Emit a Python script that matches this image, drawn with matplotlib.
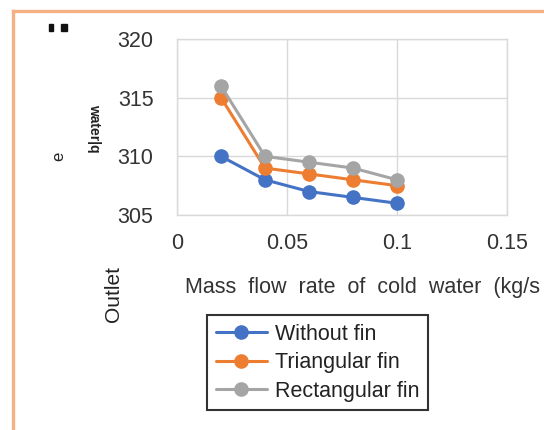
import matplotlib
matplotlib.use("Agg")
import matplotlib.pyplot as plt
from matplotlib.lines import Line2D
from matplotlib.patches import Rectangle

plt.rcParams['font.family'] = ['Liberation Sans', 'DejaVu Sans']

# Data
mass_flow = [0.02, 0.04, 0.06, 0.08, 0.10]
without_fin = [310.0, 308.0, 307.0, 306.5, 306.0]
triangular_fin = [315.0, 309.0, 308.5, 308.0, 307.5]
rectangular_fin = [316.0, 310.0, 309.5, 309.0, 308.0]
series_names = ["Without fin", "Triangular fin", "Rectangular fin"]
colors = ["#4472C4", "#ED7D31", "#A5A5A5"]
x_ticks = [0, 0.05, 0.1, 0.15]
x_tick_labels = ["0", "0.05", "0.1", "0.15"]
y_ticks = [305, 310, 315, 320]

W, H = 544, 430
fig = plt.figure(figsize=(W / 100, H / 100), dpi=100)
fig.patch.set_facecolor("white")

ax = fig.add_axes([177 / W, 1 - 215 / H, (507 - 177) / W, (215 - 39) / H])
for ys, name, c in zip([without_fin, triangular_fin, rectangular_fin], series_names, colors):
    ax.plot(mass_flow, ys, color=c, lw=2.2, marker="o", ms=9.5, label=name,
            solid_capstyle="round", zorder=3)

ax.set_xlim(0, 0.15)
ax.set_ylim(305, 320)
ax.set_xticks(x_ticks)
ax.set_xticklabels(x_tick_labels)
ax.set_yticks(y_ticks)
ax.grid(True, color="#d9d9d9", lw=1.0)
ax.set_axisbelow(True)
for s in ax.spines.values():
    s.set_color("#d9d9d9")
    s.set_linewidth(1.0)
ax.tick_params(length=0, labelsize=15.5, colors="#333333")
ax.tick_params(axis="y", pad=17)
ax.tick_params(axis="x", pad=13)

# Axis label (wide word spacing)
fig.text(185 / W, 1 - 287 / H, "  ".join("Mass flow rate of cold water (kg/s".split()),
         fontsize=15.5, color="#333333", ha="left", va="center")

# Fragments of the vertical axis title
fig.text(113 / W, 1 - 294 / H, "Outlet", rotation=90, fontsize=15,
         color="#222222", ha="center", va="center")
fig.text(59 / W, 1 - 156 / H, "e", rotation=90, fontsize=12,
         color="#222222", ha="center", va="center")
fig.text(94 / W, 1 - 128 / H, "water|q", rotation=270, fontsize=10,
         fontweight="bold", color="#222222", ha="center", va="center")
fig.patches.append(Rectangle((49 / W, 1 - 31 / H), 4 / W, 7 / H,
                             transform=fig.transFigure, color="#111111"))
fig.patches.append(Rectangle((61 / W, 1 - 31 / H), 6 / W, 7 / H,
                             transform=fig.transFigure, color="#111111"))

# Orange frame on the top and left edges
fig.add_artist(Line2D([13 / W, 1], [1 - 11 / H, 1 - 11 / H], transform=fig.transFigure,
                      color="#F4B183", lw=2.4))
fig.add_artist(Line2D([13 / W, 13 / W], [0, 1 - 11 / H], transform=fig.transFigure,
                      color="#F4B183", lw=2.4))

leg = ax.legend(loc="upper left", bbox_to_anchor=(207 / W, 1 - 315 / H),
                bbox_transform=fig.transFigure, fontsize=15.5, frameon=True,
                fancybox=False, edgecolor="black", borderpad=0.4,
                handlelength=2.4, handletextpad=0.35, labelspacing=0.35,
                borderaxespad=0)
leg.get_frame().set_linewidth(1.5)
for t in leg.get_texts():
    t.set_color("#222222")

fig.savefig("out.png", dpi=100, facecolor="white")
